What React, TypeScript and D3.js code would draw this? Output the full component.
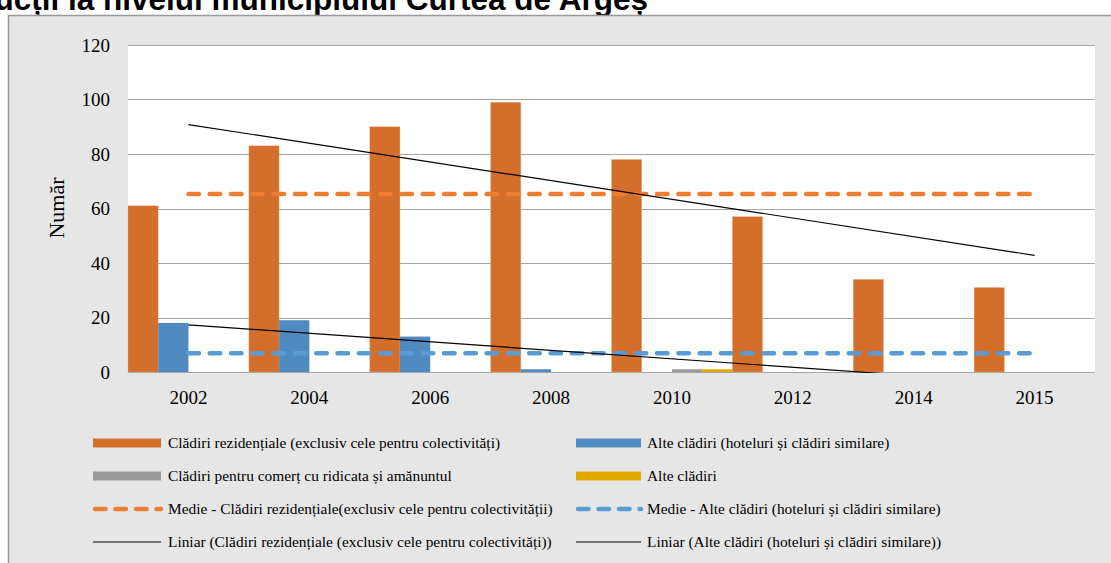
import React from 'react';
import * as d3 from 'd3';

// date
const years = ['2002', '2004', '2006', '2008', '2010', '2012', '2014', '2015'];
const rezidentiale = [61, 83, 90, 99, 78, 57, 34, 31];
const hoteluri = [18, 19, 13, 1, 0, 0, 0, 0];
const comert = [0, 0, 0, 0, 1, 0, 0, 0];
const alte = [0, 0, 0, 0, 1, 0, 0, 0];
// medii si tendinte liniare (capete)
const medieRez = 65.3;
const medieHot = 6.9;
const trendRez = [90.8, 42.8];
const trendHot = [17.3, -4.5];
const yTicks = [0, 20, 40, 60, 80, 100, 120];

const W = 1111, H = 563;
const plot = { left: 128, right: 1095, top: 45, bottom: 372 };
const serif = '"Liberation Serif", "Times New Roman", serif';

const seriesBars = [
  { key: 'rez', values: rezidentiale, color: '#d46e2b' },
  { key: 'hot', values: hoteluri, color: '#4f8bc0' },
  { key: 'com', values: comert, color: '#999999' },
  { key: 'alt', values: alte, color: '#e2a900' },
];

const legend = [
  { label: 'Clădiri rezidențiale (exclusiv cele pentru colectivități)', type: 'bar', color: '#d46e2b' },
  { label: 'Alte clădiri (hoteluri și clădiri similare)', type: 'bar', color: '#4f8bc0' },
  { label: 'Clădiri pentru comerț cu ridicata și amănuntul', type: 'bar', color: '#999999' },
  { label: 'Alte clădiri', type: 'bar', color: '#e2a900' },
  { label: 'Medie - Clădiri rezidențiale(exclusiv cele pentru colectivității)', type: 'dash', color: '#ed7d31' },
  { label: 'Medie - Alte clădiri (hoteluri și clădiri similare)', type: 'dash', color: '#5b9bd5' },
  { label: 'Liniar (Clădiri rezidențiale (exclusiv cele pentru colectivități))', type: 'line', color: '#000' },
  { label: 'Liniar (Alte clădiri (hoteluri și clădiri similare))', type: 'line', color: '#000' },
];

const App = () => {
  const x = d3.scaleBand().domain(years).range([plot.left, plot.right]);
  const xi = d3.scaleBand().domain(seriesBars.map(s => s.key)).range([0, x.bandwidth()]);
  const y = d3.scaleLinear().domain([0, 120]).range([plot.bottom, plot.top]);
  const cx = (yr: string) => (x(yr) as number) + x.bandwidth() / 2;
  const x0 = cx(years[0]), x1 = cx(years[years.length - 1]);
  const line = d3.line<[number, number]>();

  return <div style={{ position: 'absolute', left: 0, top: 0 }}>
    <svg width={W} height={H} style={{ display: 'block' }}>
      <defs>
        <clipPath id='plotClip'>
          <rect x={plot.left} y={plot.top} width={plot.right - plot.left} height={plot.bottom - plot.top + 1}></rect>
        </clipPath>
      </defs>
      <rect width={W} height={H} fill='#fff'></rect>
      {/* titlu (taiat sus, ca in original) */}
      <text x={648} y={10} textAnchor='end' fontFamily='"Liberation Sans", Arial, sans-serif'
        fontWeight='bold' fontSize={31.5} fill='#000'>Autorizații de construcții la nivelul municipiului Curtea de Argeș</text>
      {/* cadru */}
      <rect x={8.5} y={15.5} width={W} height={H} fill='#e6e6e6' stroke='#999' strokeWidth={1.5}></rect>
      <rect x={plot.left} y={plot.top} width={plot.right - plot.left} height={plot.bottom - plot.top} fill='#fff'></rect>
      {/* grila */}
      <g>
        {yTicks.map(t => <g key={t}>
          <line x1={plot.left} x2={plot.right} y1={Math.round(y(t)) + 0.5} y2={Math.round(y(t)) + 0.5} stroke='#a6a6a6'></line>
          <text x={110} y={y(t)} dy='0.35em' textAnchor='end' fontFamily={serif} fontSize={19} fill='#000'>{t}</text>
        </g>)}
      </g>
      <text transform={`translate(64, 208) rotate(-90)`} textAnchor='middle' fontFamily={serif} fontSize={22} fill='#000'>Număr</text>
      {/* bare */}
      <g>
        {seriesBars.map(s => <g key={s.key}>
          {s.values.map((v, i) => v > 0 ? <rect key={i}
            x={(x(years[i]) as number) + (xi(s.key) as number)}
            y={y(v)}
            width={xi.bandwidth()}
            height={y(0) - y(v)}
            fill={s.color}
            stroke='#f2b48a'
            strokeOpacity={s.key === 'rez' ? 0.6 : 0}
            strokeWidth={0.6}
          ></rect> : null)}
        </g>)}
      </g>
      {/* medii */}
      <line x1={x0} x2={x1} y1={y(medieRez)} y2={y(medieRez)} stroke='#ed7d31' strokeWidth={4.5} strokeDasharray='10.5 10.8' strokeLinecap='round'></line>
      <line x1={x0} x2={x1} y1={y(medieHot)} y2={y(medieHot)} stroke='#5b9bd5' strokeWidth={4.5} strokeDasharray='10.5 10.8' strokeLinecap='round'></line>
      {/* tendinte */}
      <g clipPath='url(#plotClip)'>
        <path d={line([[x0, y(trendRez[0])], [x1, y(trendRez[1])]]) || ''} stroke='#000' fill='none' strokeWidth={1.2}></path>
        <path d={line([[x0, y(trendHot[0])], [x1, y(trendHot[1])]]) || ''} stroke='#000' fill='none' strokeWidth={1.2}></path>
      </g>
      {/* axa x */}
      <g>
        {years.map(yr => <text key={yr} x={cx(yr)} y={404} textAnchor='middle' fontFamily={serif} fontSize={19} fill='#000'>{yr}</text>)}
      </g>
      {/* legenda */}
      <g>
        {legend.map((l, i) => {
          const col = i % 2, row = Math.floor(i / 2);
          const sx = col === 0 ? 93 : 576, tx = col === 0 ? 168 : 647;
          const sw = col === 0 ? 68 : 65;
          const ly = 443 + row * 33;
          return <g key={i}>
            {l.type === 'bar' && <rect x={sx} y={ly - 4.5} width={sw} height={9} fill={l.color}></rect>}
            {l.type === 'dash' && <line x1={sx + 2} x2={sx + sw} y1={ly} y2={ly} stroke={l.color} strokeWidth={4.5} strokeDasharray='10.5 10' strokeLinecap='round'></line>}
            {l.type === 'line' && <line x1={sx} x2={sx + sw} y1={ly} y2={ly} stroke={l.color} strokeWidth={1.2}></line>}
            <text x={tx} y={ly} dy='0.35em' fontFamily={serif} fontSize={15.4} fill='#000'>{l.label}</text>
          </g>
        })}
      </g>
    </svg>
  </div>
}

export default App;
